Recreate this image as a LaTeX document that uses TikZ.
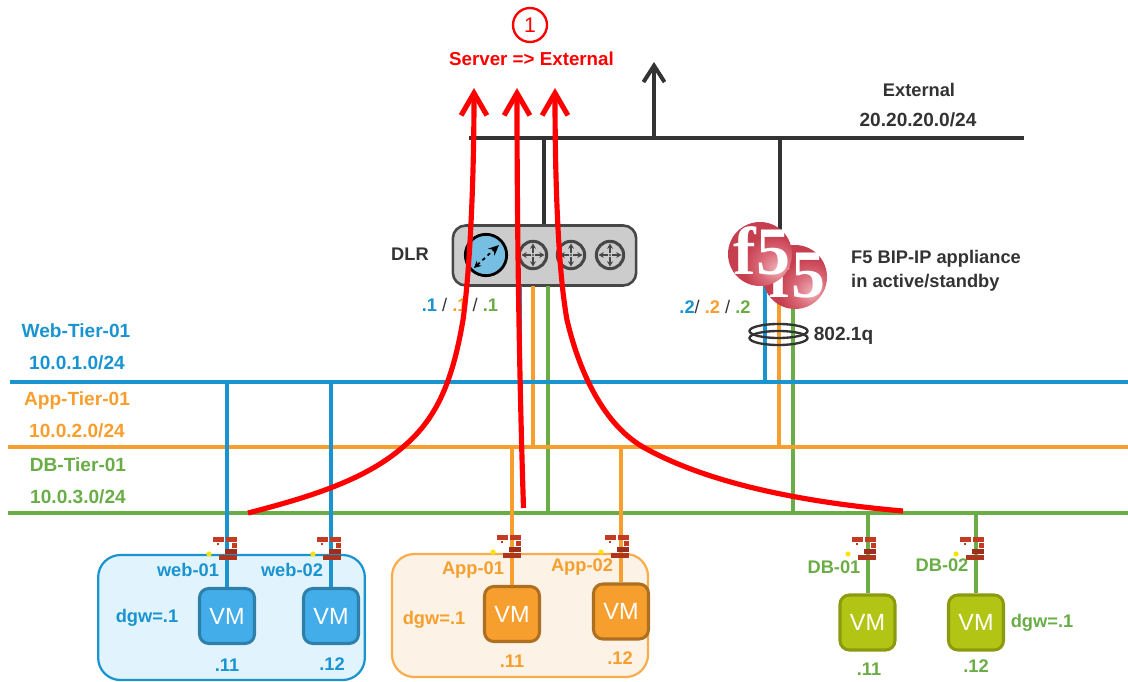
\documentclass[tikz,border=0pt]{standalone}
\usepackage{fontspec}
\setmainfont{Liberation Sans}
\newfontfamily\logofont{Liberation Serif}
\usetikzlibrary{arrows.meta}
\definecolor{webblue}{HTML}{1A94D0}
\definecolor{appor}{HTML}{F79F2E}
\definecolor{dbgreen}{HTML}{6AAD47}
\definecolor{darkline}{HTML}{333333}
\definecolor{webfill}{HTML}{E1F4FE}
\definecolor{appfill}{HTML}{FDF2E6}
\definecolor{brick}{HTML}{C23B22}
\definecolor{ballA}{HTML}{EDB4BA}
\definecolor{ballB}{HTML}{DC6C7A}
\definecolor{ballC}{HTML}{C63F4F}
\definecolor{ballD}{HTML}{A62F3E}
\pgfdeclareradialshading{fivesphere}{\pgfpoint{14bp}{-12bp}}{%
  color(0bp)=(ballA); color(12bp)=(ballB); color(24bp)=(ballC);
  color(40bp)=(ballC); color(60bp)=(ballD); color(100bp)=(ballD)}
\tikzset{
  lbl/.style={draw=none, inner sep=0pt, font=\fontsize{15.6}{18}\selectfont\bfseries},
  tierlbl/.style={draw=none, inner sep=0pt, font=\fontsize{16.3}{18}\selectfont\bfseries},
  logolbl/.style={draw=none, inner sep=0pt, text=white, font=\fontsize{58}{58}\selectfont\logofont\bfseries},
  vmbox/.style={rectangle, rounded corners=8pt, draw, line width=2.6pt, minimum size=1.65cm, text=white, font=\fontsize{20}{22}\selectfont},
  webvm/.style={vmbox, fill={rgb,255:red,66;green,173;blue,232}, draw={rgb,255:red,47;green,127;blue,171}},
  appvm/.style={vmbox, fill=appor, draw=appor!70!black},
  dbvm/.style={vmbox, fill={rgb,255:red,179;green,197;blue,20}, draw={rgb,255:red,140;green,154;blue,16}},
  bus/.style={line width=3.6pt},
  tap/.style={line width=3.4pt},
  flow/.style={draw=red, line width=4.4pt, -{Straight Barb[length=19pt,width=22pt,line width=4.4pt]}},
  rtr/.style={circle, draw=black!72, fill=black!20, line width=2.6pt, minimum size=0.82cm, inner sep=0pt},
  pics/firewall/.style={code={
    \fill[brick] (-15,-9.5) rectangle (-4,-4.5);
    \fill[brick] (-2,-9.5) rectangle (9,-4.5);
    \fill[brick] (-11,-3) rectangle (-9,-1);
    \fill[brick] (4,-3) rectangle (9,1.5);
    \fill[brick!80!black] (-3,2.5) rectangle (9,7.5);
    \fill[brick!90!black] (-9,8.5) rectangle (9,13.5);
    \fill[yellow!85!orange] (-19,8) circle (2.6);
  }},
  pics/rtrarrows/.style={code={
    \foreach \ang in {0,90,180,270}
      \draw[rotate=\ang, black!72, line width=1.4pt, -{Stealth[length=4.5pt,width=5pt]}] (2,0) -- (11.5,0);
    \fill[black!72] (0,0) circle (1.2);
  }}
}
\begin{document}
\begin{tikzpicture}[x=0.03cm, y=-0.03cm]
\useasboundingbox (0,0) rectangle (1128,682);
%%%%%%%%%%%%%%%%%%%
\node[rectangle, rounded corners=19pt, draw=webblue, fill=webfill, line width=1.9pt, minimum width=8.0cm, minimum height=3.75cm] (webbox) at (231.5,617.5) {};
\node[rectangle, rounded corners=19pt, draw=appor!85!white, fill=appfill, line width=1.9pt, minimum width=7.68cm, minimum height=3.69cm] (appbox) at (520,615.5) {};

\node[webvm] (web01) at (227,616) {VM};
\node[webvm] (web02) at (331,616) {VM};
\node[appvm] (app01) at (512,614) {VM};
\node[appvm] (app02) at (621,611.5) {VM};
\node[dbvm] (db01) at (867.5,622.5) {VM};
\node[dbvm] (db02) at (976,622.5) {VM};

\node[rectangle, rounded corners=11pt, draw=black!72, fill=black!20, line width=2.2pt, minimum width=5.5cm, minimum height=1.8cm] (dlr) at (544.5,255.5) {};
\node[circle, draw=black, fill=webblue!60!white, line width=2.4pt, minimum size=1.24cm, inner sep=0pt] (lif) at (486,255) {};
\node[rtr] (rtr1) at (533,255) {};
\node[rtr] (rtr2) at (571,255) {};
\node[rtr] (rtr3) at (610,255) {};
\pic at (rtr1) {rtrarrows};
\pic at (rtr2) {rtrarrows};
\pic at (rtr3) {rtrarrows};
\draw[black, line width=1.5pt, dashed, {Stealth[length=6pt,width=6pt]}-{Stealth[length=9pt,width=8pt,open]}] (474,268) -- (499,245);

%%%%%%%%%%%%%%%%%%%
\coordinate (webL) at (10,382);
\coordinate (webR) at (1128,382);
\coordinate (appL) at (8,447);
\coordinate (appR) at (1128,447);
\coordinate (dbL) at (8,513);
\coordinate (dbR) at (1128,513);
\coordinate (extL) at (469,138);
\coordinate (extR) at (1024,138);
\coordinate (extup) at (654,62);
\coordinate (dlrweb) at (520,286);
\coordinate (dlrapp) at (533,286);
\coordinate (dlrdb) at (548,286);
\coordinate (f5web) at (765,280);
\coordinate (f5app) at (779,295);
\coordinate (f5db) at (793,295);

\draw[tap, dbgreen] (dlrdb) -- (dlrdb |- dbL);
\draw[tap, dbgreen] (f5db) -- (f5db |- dbL);
\draw[tap, dbgreen] (db01) -- (db01 |- dbL);
\draw[tap, dbgreen] (db02) -- (db02 |- dbL);
\draw[bus, dbgreen] (dbL) -- (dbR);
\draw[tap, appor] (dlrapp) -- (dlrapp |- appL);
\draw[tap, appor] (f5app) -- (f5app |- appL);
\draw[tap, appor] (app01) -- (app01 |- appL);
\draw[tap, appor] (app02) -- (app02 |- appL);
\draw[bus, appor] (appL) -- (appR);
\draw[tap, webblue] (dlrweb) -- (dlrweb |- webL);
\draw[tap, webblue] (f5web) -- (f5web |- webL);
\draw[tap, webblue] (web01) -- (web01 |- webL);
\draw[tap, webblue] (web02) -- (web02 |- webL);
\draw[bus, webblue] (webL) -- (webR);
\draw[bus, darkline] (extL) -- (extR);
\draw[line width=3.4pt, darkline, -{Straight Barb[length=14pt,width=18pt,line width=3.4pt]}] (extup |- extL) -- (extup);
\draw[tap, darkline] (dlr.north -| 544,0) -- (544,138);
\draw[tap, darkline] (780,138) -- (780,240);

%%%%%%%%%%%%%%%%%%%
\shade[shading=fivesphere] (795,277) circle (32);
\node[logolbl] (f5b) at (797,274) {f5};
\shade[shading=fivesphere] (760,254) circle (32);
\node[logolbl] (f5a) at (762,251) {f5};

\draw[line width=2pt, darkline] (778.5,331) ellipse (29 and 7);
\draw[line width=2pt, darkline] (778.5,338) ellipse (29 and 7);

\pic at (228,546) {firewall};
\pic at (332,546) {firewall};
\pic at (512,544) {firewall};
\pic at (620,544) {firewall};
\pic at (867,546) {firewall};
\pic at (975,546) {firewall};

%%%%%%%%%%%%%%%%%%%%%
\node[circle, draw=red, fill=white, line width=2pt, minimum size=1.02cm, inner sep=0pt, text=red, font=\fontsize{18}{20}\selectfont] (one) at (530,25) {1};
\node[draw=none, inner sep=0pt, font=\fontsize{16}{18}\selectfont\bfseries, text=red] (title) at (531.5,59) {Server => External};
\node[lbl, text=darkline] (extname) at (919,90) {External};
\node[tierlbl, text=darkline] (extnet) at (918,120) {20.20.20.0/24};
\node[lbl, text=darkline] (dlrname) at (410,254) {DLR};
\node[lbl, text=darkline] (dlrip) at (460,305) {\textcolor{webblue}{.1} \textcolor{darkline}{\mdseries/} \textcolor{appor}{.1} \textcolor{darkline}{\mdseries/} \textcolor{dbgreen}{.1}};
\node[lbl, text=darkline, anchor=west] (f5line1) at (851,259) {F5 BIP-IP appliance};
\node[lbl, text=darkline, anchor=west] (f5line2) at (851,283) {in active/standby};
\node[lbl, text=darkline] (f5ip) at (715,307) {\textcolor{webblue}{.2}\textcolor{darkline}{\mdseries/} \textcolor{appor}{.2} \textcolor{darkline}{\mdseries/} \textcolor{dbgreen}{.2}};
\node[tierlbl, text=darkline] (vlan) at (843.5,336) {802.1q};

\node[tierlbl, text=webblue] (webname) at (76,331) {Web-Tier-01};
\node[tierlbl, text=webblue] (webnet) at (77,363) {10.0.1.0/24};
\node[tierlbl, text=appor] (appname) at (77,401) {App-Tier-01};
\node[tierlbl, text=appor] (appnet) at (77,431) {10.0.2.0/24};
\node[tierlbl, text=dbgreen] (dbname) at (78,465) {DB-Tier-01};
\node[tierlbl, text=dbgreen] (dbnet) at (78,497) {10.0.3.0/24};

\node[lbl, text=webblue] (web01name) at (188,570) {web-01};
\node[lbl, text=webblue] (web02name) at (292,570) {web-02};
\node[lbl, text=webblue] (webdgw) at (147,618) {dgw=.1};
\node[lbl, text=webblue] (web01ip) at (227,665) {.11};
\node[lbl, text=webblue] (web02ip) at (332,664) {.12};

\node[lbl, text=appor] (app01name) at (473,570) {App-01};
\node[lbl, text=appor] (app02name) at (582,567) {App-02};
\node[lbl, text=appor] (appdgw) at (434,620) {dgw=.1};
\node[lbl, text=appor] (app01ip) at (512,661) {.11};
\node[lbl, text=appor] (app02ip) at (620,658) {.12};

\node[lbl, text=dbgreen] (db01name) at (834,567) {DB-01};
\node[lbl, text=dbgreen] (db02name) at (942,565) {DB-02};
\node[lbl, text=dbgreen] (dbdgw) at (1042,623) {dgw=.1};
\node[lbl, text=dbgreen] (db01ip) at (869,669) {.11};
\node[lbl, text=dbgreen] (db02ip) at (976,666) {.12};

%%%%%%%%%%%%%%%%%%%
\coordinate (flowL) at (248,513);
\coordinate (flowM) at (523.5,508);
\coordinate (flowR) at (903,511);
\draw[flow] (flowL) .. controls (310,497) and (365,480) .. (403,447) .. controls (435,420) and (452,385) .. (463,320) .. controls (470,270) and (474,180) .. (474,88);
\draw[flow] (flowM) .. controls (520,400) and (517,250) .. (517,88);
\draw[flow] (flowR) .. controls (810,503) and (710,485) .. (643,447) .. controls (605,425) and (580,375) .. (567,320) .. controls (558,270) and (555,180) .. (555,88);
\end{tikzpicture}
\end{document}
